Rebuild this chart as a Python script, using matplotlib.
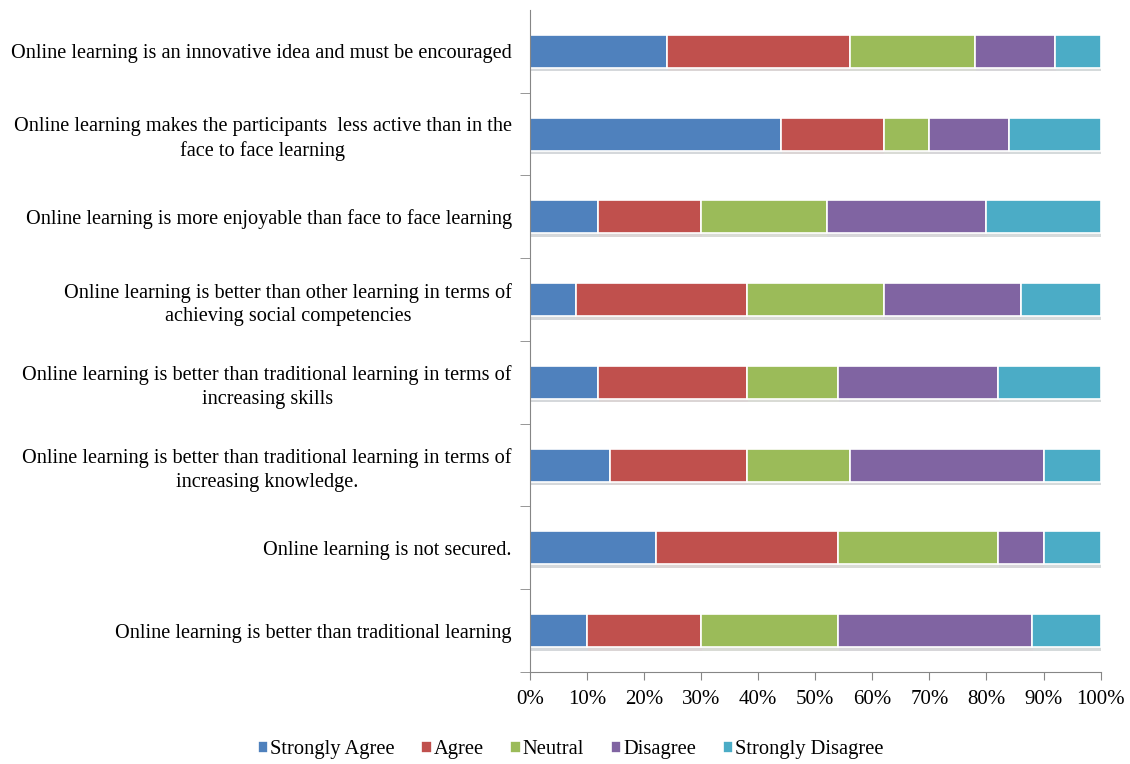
import matplotlib.pyplot as plt
import matplotlib.patheffects as pe
import numpy as np

plt.rcParams['font.family'] = ['Liberation Serif', 'DejaVu Serif']

# categories listed bottom to top
statements = [
    "Online learning is better than traditional learning",
    "Online learning is not secured.",
    "Online learning is better than traditional learning in terms of\nincreasing knowledge.",
    "Online learning is better than traditional learning in terms of\nincreasing skills",
    "Online learning is better than other learning in terms of\nachieving social competencies",
    "Online learning is more enjoyable than face to face learning",
    "Online learning makes the participants  less active than in the\nface to face learning",
    "Online learning is an innovative idea and must be encouraged",
]
strongly_agree = [10, 22, 14, 12, 8, 12, 44, 24]
agree = [20, 32, 24, 26, 30, 18, 18, 32]
neutral = [24, 28, 18, 16, 24, 22, 8, 22]
disagree = [34, 8, 34, 28, 24, 28, 14, 14]
strongly_disagree = [12, 10, 10, 18, 14, 20, 16, 8]

series = ["Strongly Agree", "Agree", "Neutral", "Disagree", "Strongly Disagree"]
colors = ["#4F81BD", "#C0504D", "#9BBB59", "#8064A2", "#4BACC6"]

fig = plt.figure(figsize=(11.3, 7.64), dpi=100)
ax = fig.add_axes([0.469, 0.1204, 0.505, 0.8666])

y = np.arange(len(statements))
left = np.zeros(len(statements))
shadow = [pe.SimplePatchShadow(offset=(0.5, -2.5), alpha=0.18), pe.Normal()]
for name, vals, c in zip(series, [strongly_agree, agree, neutral, disagree, strongly_disagree], colors):
    vals = np.array(vals, dtype=float)
    bars = ax.barh(y, vals, left=left, height=0.4, color=c, edgecolor='white',
                   linewidth=1.2, label=name)
    for b in bars:
        b.set_path_effects(shadow)
    left += vals

ax.set_xlim(0, 100)
ax.set_ylim(-0.5, len(statements) - 0.5)
ax.set_xticks(np.arange(0, 101, 10))
ax.set_xticklabels([f"{v}%" for v in range(0, 101, 10)], fontsize=15)
ax.set_yticks(y)
ax.set_yticklabels(statements, fontsize=14.6, multialignment='center', linespacing=1.35)
ax.set_yticks(np.arange(-0.5, len(statements) - 1, 1), minor=True)
ax.tick_params(axis='y', which='major', length=0, pad=13)
ax.tick_params(axis='y', which='minor', length=7, color='#868686')
ax.tick_params(axis='x', length=6, color='#868686', pad=7)

for s in ['top', 'right']:
    ax.spines[s].set_visible(False)
for s in ['left', 'bottom']:
    ax.spines[s].set_color('#868686')

leg = fig.legend(loc='lower center', ncol=5, frameon=False, fontsize=14.8,
                 bbox_to_anchor=(0.505, -0.018), handlelength=0.5, handleheight=0.5,
                 handletextpad=0.1, columnspacing=1.3)
for h in leg.legend_handles:
    h.set_path_effects([])

fig.savefig('out.png', dpi=100)
